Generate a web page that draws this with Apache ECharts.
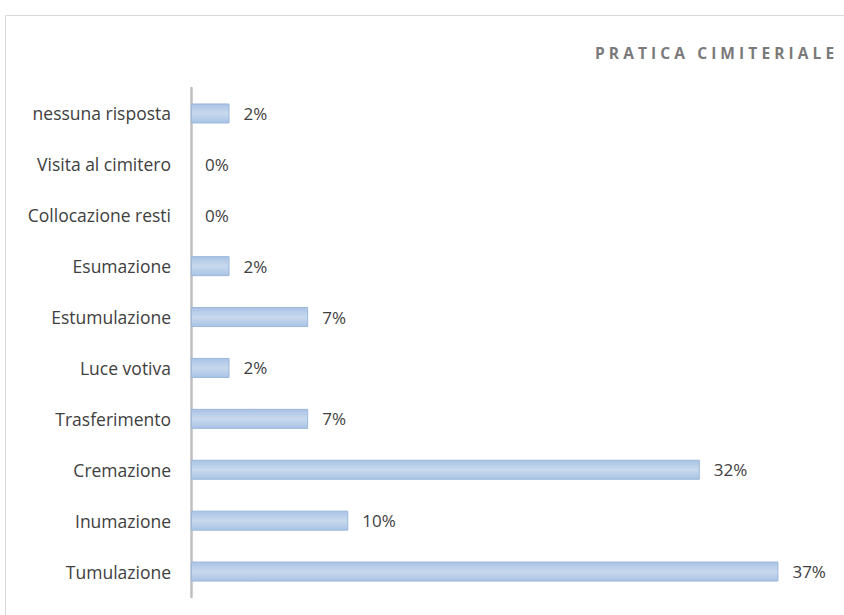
<!DOCTYPE html>
<html>
<head>
<meta charset="utf-8">
<script src="https://cdn.jsdelivr.net/npm/echarts@6/dist/echarts.min.js"></script>
<style>
html,body{margin:0;padding:0;background:#fff;}
#c{width:844px;height:615px;}
</style>
</head>
<body>
<div id="c"></div>
<script>
// Categories listed bottom to top
const categories = ['Tumulazione','Inumazione','Cremazione','Trasferimento','Luce votiva','Estumulazione','Esumazione','Collocazione resti','Visita al cimitero','nessuna risposta'];
const values = [36.6, 9.8, 31.7, 7.3, 2.4, 7.3, 2.4, 0, 0, 2.4];
const titleText = 'PRATICA CIMITERIALE';

const chart = echarts.init(document.getElementById('c'), null, {renderer: 'svg'});
chart.setOption({
  backgroundColor: '#ffffff',
  animation: false,
  title: {
    text: titleText,
    left: 590,
    top: 40,
    textStyle: {fontFamily: 'Open Sans', fontSize: 15.5, fontWeight: 'bold', color: '#7a7a7a'}
  },
  graphic: [{
    type: 'rect',
    shape: {x: 5.5, y: 15.5, width: 900, height: 700},
    style: {fill: 'none', stroke: '#d9d9d9', lineWidth: 1},
    silent: true,
    z: -1
  }],
  grid: {left: 191, right: 11, top: 88, bottom: 18, containLabel: false},
  xAxis: {
    type: 'value', min: 0, max: 40,
    show: false
  },
  yAxis: {
    type: 'category',
    data: categories,
    axisLine: {show: true, lineStyle: {color: '#bfbfbf', width: 2.5}},
    axisTick: {show: false},
    axisLabel: {fontFamily: 'Open Sans', fontSize: 17.5, color: '#404040', margin: 20}
  },
  series: [{
    type: 'bar',
    data: values.map(v => v === 0 ? {value: v, itemStyle: {borderWidth: 0, color: 'transparent'}} : v),
    barWidth: 20,
    itemStyle: {
      color: new echarts.graphic.LinearGradient(0, 0, 0, 1, [
        {offset: 0, color: '#a9c3e4'},
        {offset: 0.5, color: '#c8d9ee'},
        {offset: 1, color: '#a9c3e4'}
      ]),
      borderColor: '#9bb7dc',
      borderWidth: 1
    },
    label: {
      show: true,
      position: 'right',
      distance: 14,
      fontFamily: 'Open Sans',
      fontSize: 17,
      color: '#404040',
      formatter: p => Math.round(p.value) + '%'
    }
  }]
});

// widen the title's letter spacing as in the reference
document.querySelectorAll('#c text').forEach(t => {
  if (t.textContent === titleText) t.setAttribute('letter-spacing', '4.1');
});
</script>
</body>
</html>
